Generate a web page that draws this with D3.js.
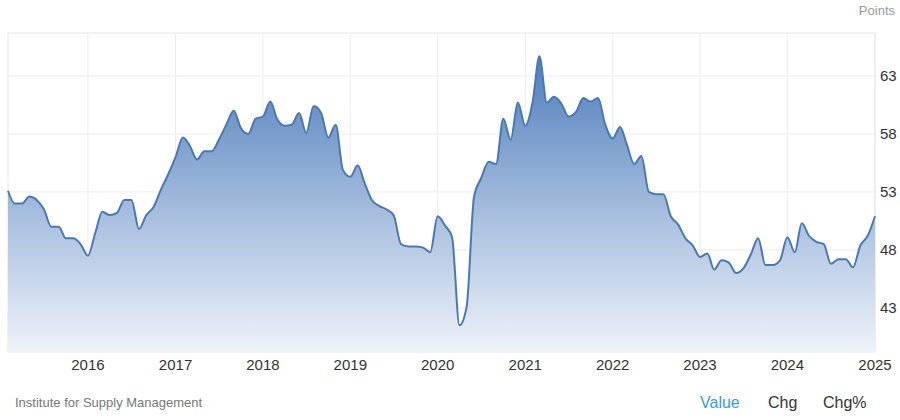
<!DOCTYPE html>
<html><head><meta charset="utf-8">
<script src="https://cdn.jsdelivr.net/npm/d3@7"></script>
<style>body{margin:0;background:#fff;font-family:Arial,"Liberation Sans",sans-serif}</style>
</head><body><svg id="c" width="900" height="420"></svg>
<script>
// ISM manufacturing PMI, monthly Feb 2015 .. Jan 2025
var startMonth = [2015, 1];
var values = [
  53.1, 52.0, 52.0, 52.6, 52.3, 51.5, 50.0, 50.0, 49.0, 49.0, 48.5,
  47.5, 49.5, 51.3, 51.0, 51.2, 52.3, 52.3, 49.8, 51.0, 51.7, 53.2, 54.5,
  56.0, 57.7, 57.0, 55.8, 56.5, 56.5, 57.5, 58.8, 60.0, 58.5, 58.0, 59.3,
  59.5, 60.8, 59.3, 58.7, 58.8, 59.8, 58.1, 60.4, 59.8, 57.7, 58.8, 54.9,
  54.3, 55.3, 53.8, 52.3, 51.8, 51.5, 51.0, 48.5, 48.3, 48.3, 48.2, 47.8,
  50.9, 50.1, 49.1, 41.5, 43.1, 52.6, 54.2, 55.6, 55.4, 59.3, 57.5, 60.7,
  58.7, 60.8, 64.7, 60.7, 61.2, 60.6, 59.5, 59.9, 61.1, 60.8, 61.1, 58.8,
  57.6, 58.6, 57.1, 55.4, 56.1, 53.0, 52.8, 52.8, 50.9, 50.2, 49.0, 48.4,
  47.4, 47.7, 46.3, 47.1, 46.9, 46.0, 46.4, 47.6, 49.0, 46.7, 46.7, 47.1,
  49.1, 47.8, 50.3, 49.2, 48.7, 48.5, 46.8, 47.2, 47.2, 46.5, 48.4, 49.2,
  50.9
];
var yTicks = [43, 48, 53, 58, 63];
var xTicks = [2016, 2017, 2018, 2019, 2020, 2021, 2022, 2023, 2024, 2025];
var footLinks = ["Value", "Chg", "Chg%"];

var data = values.map(function (v, i) {
  return { date: new Date(startMonth[0], startMonth[1] + i, 1), v: v };
});

var svg = d3.select("#c");
var plotL = 8, plotR = 875, plotT = 33, plotB = 352;

var x = d3.scaleTime().domain([data[0].date, new Date(2025, 0, 1)]).range([plotL, plotR]);
var y = d3.scaleLinear().domain([39.2, 66.7]).range([plotB, plotT]);

var defs = svg.append("defs");
var grad = defs.append("linearGradient").attr("id", "g").attr("x1", 0).attr("y1", 0).attr("x2", 0).attr("y2", 1);
grad.append("stop").attr("offset", "0%").attr("stop-color", "#4f7dbb");
grad.append("stop").attr("offset", "55%").attr("stop-color", "#a9c0df");
grad.append("stop").attr("offset", "100%").attr("stop-color", "#eef3f9");

// grid
svg.append("g").selectAll("line").data(yTicks).enter().append("line")
  .attr("x1", plotL).attr("x2", plotR).attr("y1", y).attr("y2", y)
  .attr("stroke", "#ececec");
svg.append("g").selectAll("line").data(xTicks).enter().append("line")
  .attr("x1", function (d) { return x(new Date(d, 0, 1)); })
  .attr("x2", function (d) { return x(new Date(d, 0, 1)); })
  .attr("y1", plotT).attr("y2", plotB).attr("stroke", "#ececec");
svg.append("rect").attr("x", plotL).attr("y", plotT).attr("width", plotR - plotL).attr("height", plotB - plotT)
  .attr("fill", "none").attr("stroke", "#e6e6e6");

var area = d3.area().x(function (d) { return x(d.date); }).y0(plotB).y1(function (d) { return y(d.v); })
  .curve(d3.curveMonotoneX);
var line = d3.line().x(function (d) { return x(d.date); }).y(function (d) { return y(d.v); })
  .curve(d3.curveMonotoneX);

svg.append("path").datum(data).attr("d", area).attr("fill", "url(#g)");
svg.append("path").datum(data).attr("d", line).attr("fill", "none")
  .attr("stroke", "#4a78b3").attr("stroke-width", 2);

// axes labels
svg.append("g").selectAll("text").data(yTicks).enter().append("text")
  .attr("x", 880).attr("y", function (d) { return y(d) + 5; })
  .attr("font-size", 15).attr("fill", "#333").text(String);
svg.append("g").selectAll("text").data(xTicks).enter().append("text")
  .attr("x", function (d) { return x(new Date(d, 0, 1)); }).attr("y", 370)
  .attr("text-anchor", "middle").attr("font-size", 15).attr("fill", "#333").text(String);

svg.append("text").attr("x", 895).attr("y", 15).attr("text-anchor", "end")
  .attr("font-size", 13).attr("fill", "#999").text("Points");
svg.append("text").attr("x", 15).attr("y", 407).attr("font-size", 13).attr("fill", "#777")
  .text("Institute for Supply Management");

var fx = [700, 768, 823];
svg.append("g").selectAll("text").data(footLinks).enter().append("text")
  .attr("x", function (d, i) { return fx[i]; }).attr("y", 408).attr("font-size", 16)
  .attr("fill", function (d, i) { return i === 0 ? "#3a9ad9" : "#333"; }).text(String);
</script></body></html>
